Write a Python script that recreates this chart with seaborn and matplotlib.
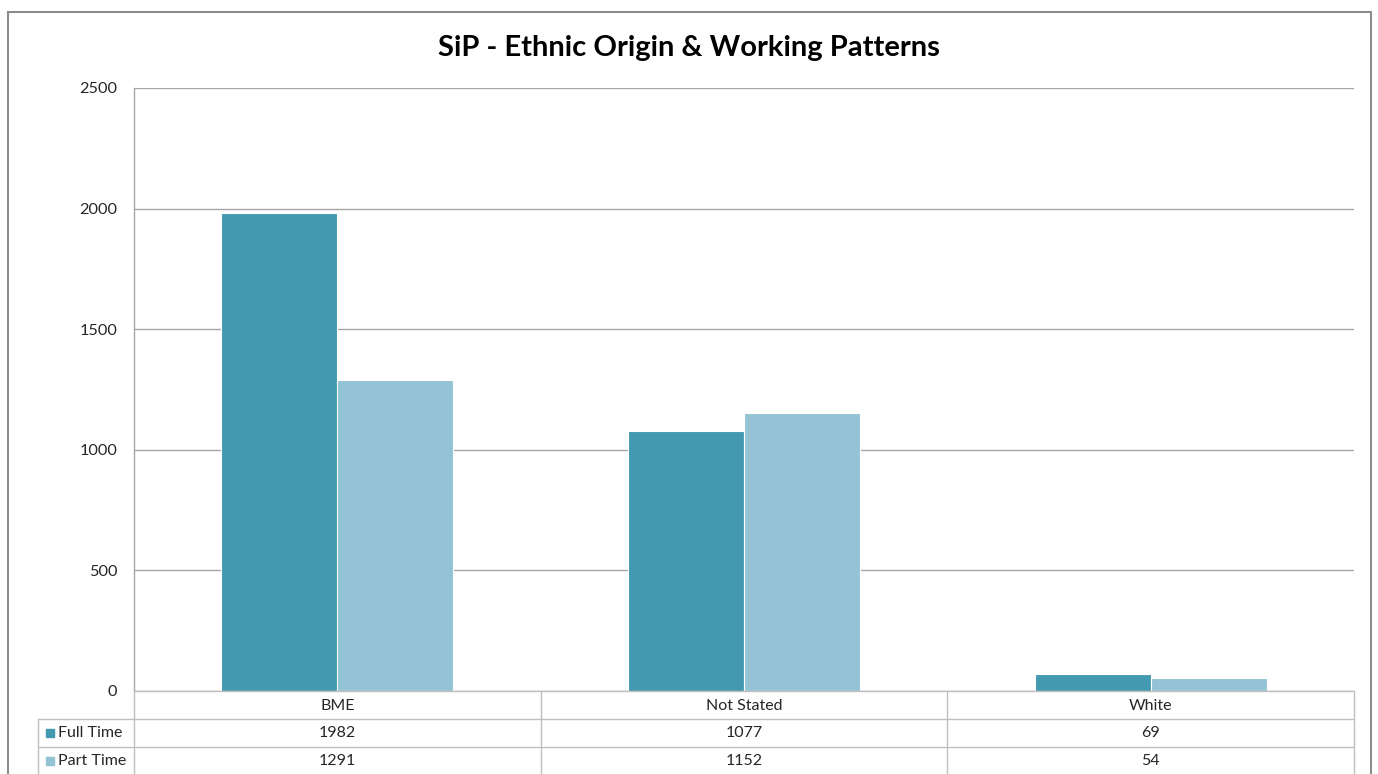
import matplotlib.pyplot as plt
import numpy as np
import pandas as pd
import seaborn as sns
from matplotlib.patches import Rectangle

# data
categories = ["BME", "Not Stated", "White"]
series = ["Full Time", "Part Time"]
full_time = [1982, 1077, 69]
part_time = [1291, 1152, 54]
colors = ["#4299B0", "#93C3D5"]
yticks = [0, 500, 1000, 1500, 2000, 2500]

W, H = 1378, 774
GRID = "#A6A6A6"
TEXT = "#262626"

sns.set_theme(style="white")
plt.rcParams["font.family"] = ["Lato", "DejaVu Sans"]

df = pd.DataFrame({
    "category": categories * 2,
    "series": [series[0]] * 3 + [series[1]] * 3,
    "value": full_time + part_time,
})

fig = plt.figure(figsize=(W / 100, H / 100), dpi=100)
fig.patch.set_facecolor("white")

# main plot area (pixel layout)
ax = fig.add_axes([134 / W, (H - 691) / H, (1354 - 134) / W, (691 - 88) / H])
sns.barplot(data=df, x="category", y="value", hue="series", palette=colors,
            width=0.57, saturation=1, ax=ax, legend=False)
ax.set_xlim(-0.5, 2.5)
ax.set_ylim(0, 2500)
ax.set_yticks(yticks)
ax.set_yticklabels([str(v) for v in yticks], fontsize=11.7, color=TEXT)
ax.tick_params(axis="y", length=0, pad=12)
ax.set_xticks([])
ax.set_xlabel("")
ax.set_ylabel("")
ax.yaxis.grid(True, color=GRID, lw=1)
ax.set_axisbelow(True)
for s in ["top", "right", "bottom"]:
    ax.spines[s].set_visible(False)
ax.spines["left"].set_color(GRID)
ax.spines["left"].set_linewidth(1)
for p in ax.patches:
    p.set_edgecolor("white")
    p.set_linewidth(0.8)

fig.text(0.5, (H - 48) / H, "SiP - Ethnic Origin & Working Patterns",
         ha="center", va="center", fontsize=21, fontweight="bold", color="black")

# data table below the plot
px = 3 / (1354 - 134)
x_left = -0.5 - (134 - 38) * px
tab = fig.add_axes([38 / W, -1 / H, (1354 - 38) / W, 84 / H])
tab.set_xlim(x_left, 2.5)
tab.set_ylim(3, 0)
tab.axis("off")
lc = "#BFBFBF"
bounds = np.arange(len(categories) + 1) - 0.5
for b in bounds:
    tab.plot([b, b], [0, 3], color=lc, lw=1, clip_on=False)
tab.plot([x_left, x_left], [1, 3], color=lc, lw=1, clip_on=False)
tab.plot([-0.5, 2.5], [0, 0], color=lc, lw=1, clip_on=False)
for r in [1, 2]:
    tab.plot([x_left, 2.5], [r, r], color=lc, lw=1, clip_on=False)

for i, c in enumerate(categories):
    tab.text(i, 0.55, c, ha="center", va="center", fontsize=11.5, color=TEXT)
for r, (name, vals, col) in enumerate(zip(series, [full_time, part_time], colors)):
    y = r + 1.5
    tab.plot([x_left + 12 * px], [y], marker="s", ms=6, color=col, clip_on=False)
    tab.text(x_left + 20 * px, y, name, ha="left", va="center", fontsize=11.5, color=TEXT)
    for i, v in enumerate(vals):
        tab.text(i, y, str(v), ha="center", va="center", fontsize=11.5, color=TEXT)

# outer chart border
fig.patches.append(Rectangle((8 / W, -0.05), (1371 - 8) / W, (H - 12) / H + 0.05,
                             transform=fig.transFigure, fill=False,
                             edgecolor="#8C8C8C", lw=1.5))

plt.savefig("out.png", dpi=100)
plt.close()
